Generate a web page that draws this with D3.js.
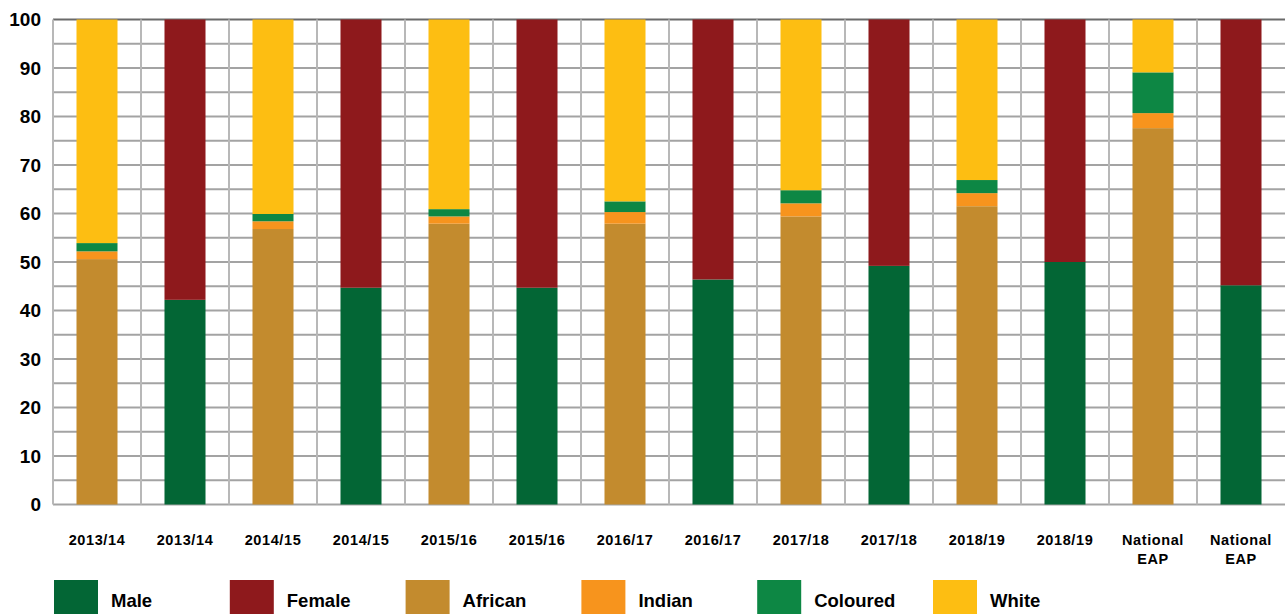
<!DOCTYPE html>
<html>
<head>
<meta charset="utf-8">
<script src="https://cdn.jsdelivr.net/npm/d3@7"></script>
<style>
  body { margin: 0; background: #fff; }
  text { font-family: "Liberation Sans", Arial, sans-serif; font-weight: bold; fill: #000; }
</style>
</head>
<body>
<div class="mainContainer"></div>
<script>
// data (percent)
const years = ['2013/14', '2014/15', '2015/16', '2016/17', '2017/18', '2018/19', 'National EAP'];
const african  = [50.6, 56.8, 57.9, 57.9, 59.4, 61.5, 77.6];
const indian   = [1.6, 1.6, 1.5, 2.4, 2.7, 2.7, 3.1];
const coloured = [1.7, 1.5, 1.5, 2.2, 2.7, 2.7, 8.4];
const white    = [46.1, 40.1, 39.1, 37.5, 35.2, 33.1, 10.9];
const male     = [42.2, 44.7, 44.7, 46.4, 49.2, 50.0, 45.2];
const female   = [57.8, 55.3, 55.3, 53.6, 50.8, 50.0, 54.8];
const yTicks   = [0, 10, 20, 30, 40, 50, 60, 70, 80, 90, 100];

const legendKeys = ['Male', 'Female', 'African', 'Indian', 'Coloured', 'White'];
const colours = {
  Male: '#036635', Female: '#8e191c', African: '#c38b2e',
  Indian: '#f7941d', Coloured: '#0d8744', White: '#fdbe12'
};

// each year gets a race column then a gender column
const columns = [];
years.forEach((yr, i) => {
  columns.push({label: yr, parts: [
    {key: 'African', v: african[i]}, {key: 'Indian', v: indian[i]},
    {key: 'Coloured', v: coloured[i]}, {key: 'White', v: white[i]}]});
  columns.push({label: yr, parts: [
    {key: 'Male', v: male[i]}, {key: 'Female', v: female[i]}]});
});
columns.forEach((c, i) => {
  c.id = i;
  let acc = 0;
  c.parts.forEach(p => { p.y0 = acc; acc += p.v; p.y1 = acc; });
});

const svg = d3.select('.mainContainer')
  .append('svg')
  .attr('width', 1285)
  .attr('height', 614);

const plotLeft = 53, plotRight = 1285, plotTop = 19.5, plotBottom = 504.5;

const x = d3.scaleBand()
  .domain(columns.map(d => d.id))
  .range([plotLeft, plotRight])
  .paddingInner(0.534)
  .paddingOuter(0.267);

const xCell = d3.scaleBand()
  .domain(columns.map(d => d.id))
  .range([plotLeft, plotRight]);

const y = d3.scaleLinear()
  .domain([0, 100])
  .range([plotBottom, plotTop]);

// grid
const grid = svg.append('g');
grid.selectAll('line.h')
  .data(d3.range(0, 101, 5))
  .enter().append('line')
  .attr('x1', plotLeft).attr('x2', plotRight)
  .attr('y1', d => y(d)).attr('y2', d => y(d))
  .attr('stroke', d => d === 100 ? '#6a6a6a' : '#a3a3a3')
  .attr('stroke-width', 2);

grid.selectAll('line.v')
  .data(columns.map(d => d.id))
  .enter().append('line')
  .attr('x1', d => xCell(d)).attr('x2', d => xCell(d))
  .attr('y1', plotTop).attr('y2', plotBottom)
  .attr('stroke', '#b8b8b8')
  .attr('stroke-width', 2);

// bars
const cols = svg.selectAll('g.col')
  .data(columns)
  .enter().append('g')
  .attr('class', 'col');

cols.selectAll('rect')
  .data(d => d.parts.map(p => ({...p, id: d.id})))
  .enter().append('rect')
  .attr('x', d => x(d.id))
  .attr('width', x.bandwidth())
  .attr('y', d => y(d.y1))
  .attr('height', d => y(d.y0) - y(d.y1))
  .attr('fill', d => colours[d.key]);

// y axis labels
const yAxis = d3.axisLeft(y).tickValues(yTicks).tickSize(0).tickPadding(12);
const yAxisGroup = svg.append('g')
  .attr('transform', `translate(${plotLeft},0)`)
  .call(yAxis);
yAxisGroup.select('.domain').remove();
yAxisGroup.selectAll('text')
  .attr('font-size', 19)
  .attr('font-family', '"Liberation Sans", Arial, sans-serif')
  .attr('font-weight', 'bold')
  .attr('fill', '#000');

// x labels
const xLabels = svg.append('g');
columns.forEach(c => {
  const words = c.label === 'National EAP' ? ['National', 'EAP'] : [c.label];
  const t = xLabels.append('text')
    .attr('x', x(c.id) + x.bandwidth() / 2)
    .attr('y', 545)
    .attr('text-anchor', 'middle')
    .attr('font-size', 14.5)
    .attr('letter-spacing', 0.6);
  words.forEach((w, j) => {
    t.append('tspan')
      .attr('x', x(c.id) + x.bandwidth() / 2)
      .attr('dy', j === 0 ? 0 : 19)
      .text(w);
  });
});

// legend
const legend = svg.selectAll('g.legend')
  .data(legendKeys)
  .enter().append('g')
  .attr('class', 'legend')
  .attr('transform', (d, i) => `translate(${54 + i * 175.8},580)`);

legend.append('rect')
  .attr('width', 44)
  .attr('height', 42)
  .attr('fill', d => colours[d]);

legend.append('text')
  .attr('x', 57)
  .attr('y', 27)
  .attr('font-size', 18.5)
  .text(d => d);
</script>
</body>
</html>
